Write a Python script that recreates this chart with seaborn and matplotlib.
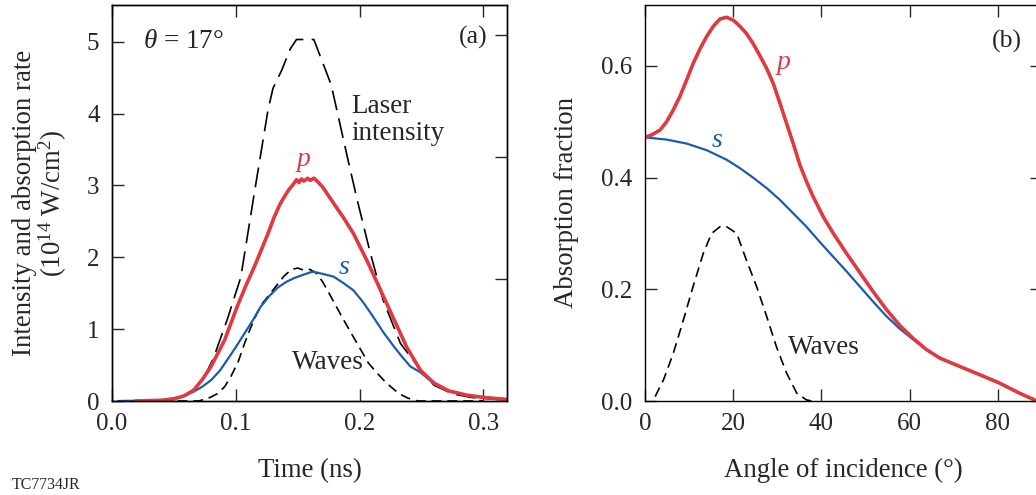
import numpy as np
import pandas as pd
import matplotlib
matplotlib.use("Agg")
import matplotlib.pyplot as plt
import seaborn as sns

# ---- (a) time history at theta = 17 deg ----
laser_t = [0.035, 0.05, 0.06, 0.067, 0.075, 0.082, 0.093, 0.104, 0.115, 0.126, 0.130,
           0.137, 0.144, 0.149, 0.163, 0.167, 0.177, 0.190, 0.198, 0.208, 0.219, 0.233,
           0.244, 0.252, 0.260, 0.275, 0.290, 0.320]
laser_I = [0.0, 0.02, 0.08, 0.18, 0.35, 0.60, 1.13, 1.72, 2.90, 4.05, 4.35,
           4.60, 4.90, 5.03, 5.03, 4.85, 4.40, 3.40, 2.80, 2.10, 1.40, 0.80,
           0.55, 0.38, 0.22, 0.10, 0.05, 0.01]

p_t = [0.019, 0.040, 0.050, 0.058, 0.066, 0.073, 0.080, 0.091, 0.101, 0.108, 0.115,
       0.121, 0.126, 0.131, 0.136, 0.142, 0.147, 0.149, 0.151, 0.153, 0.155, 0.158,
       0.160, 0.163, 0.165, 0.170, 0.179, 0.187, 0.195, 0.206, 0.214, 0.222, 0.230,
       0.238, 0.249, 0.260, 0.272, 0.287, 0.300, 0.320]
p_I = [0.0, 0.01, 0.03, 0.07, 0.15, 0.30, 0.48, 0.85, 1.31, 1.60, 1.87,
       2.12, 2.33, 2.56, 2.75, 2.92, 3.03, 3.08, 3.04, 3.09, 3.06, 3.10,
       3.07, 3.10, 3.07, 2.98, 2.75, 2.55, 2.33, 1.95, 1.65, 1.35, 1.05,
       0.75, 0.43, 0.25, 0.14, 0.08, 0.05, 0.02]

s_t = [0.005, 0.040, 0.055, 0.066, 0.073, 0.080, 0.087, 0.093, 0.100, 0.107, 0.114,
       0.120, 0.127, 0.134, 0.141, 0.147, 0.155, 0.162, 0.170, 0.179, 0.187, 0.195,
       0.203, 0.211, 0.219, 0.228, 0.235, 0.241, 0.249, 0.260, 0.272, 0.287, 0.300,
       0.320]
s_I = [0.0, 0.01, 0.05, 0.13, 0.20, 0.29, 0.42, 0.57, 0.75, 0.94, 1.13,
       1.31, 1.46, 1.58, 1.66, 1.71, 1.76, 1.80, 1.77, 1.73, 1.64, 1.54,
       1.37, 1.17, 0.96, 0.75, 0.60, 0.48, 0.40, 0.24, 0.14, 0.08, 0.05,
       0.02]

waves_t = [0.040, 0.070, 0.078, 0.085, 0.091, 0.096, 0.102, 0.107, 0.112, 0.117, 0.122,
           0.128, 0.134, 0.139, 0.145, 0.150, 0.155, 0.160, 0.165, 0.170, 0.174, 0.180,
           0.187, 0.194, 0.201, 0.207, 0.214, 0.220, 0.225, 0.232, 0.239, 0.247, 0.300]
waves_I = [0.0, 0.0, 0.04, 0.10, 0.20, 0.34, 0.55, 0.80, 1.02, 1.22, 1.37,
           1.50, 1.63, 1.74, 1.83, 1.85, 1.82, 1.83, 1.78, 1.66, 1.54, 1.35,
           1.13, 0.92, 0.71, 0.53, 0.39, 0.28, 0.20, 0.10, 0.04, 0.0, 0.0]

# ---- (b) absorption fraction vs angle of incidence ----
p_ang = [0.0, 1.4, 3.4, 4.9, 6.4, 7.9, 9.4, 10.9, 12.5, 14.0, 15.5, 17.0, 18.5,
         20.0, 21.5, 23.0, 24.5, 26.0, 27.6, 29.1, 30.6, 32.1, 33.6, 35.1, 36.6,
         38.1, 40.4, 42.7, 45.7, 48.7, 51.7, 54.7, 57.8, 60.8, 63.8, 66.8, 71.3,
         75.9, 80.4, 84.9, 88.3]
p_abs = [0.472, 0.476, 0.485, 0.500, 0.521, 0.545, 0.574, 0.604, 0.631, 0.653,
         0.671, 0.684, 0.687, 0.682, 0.671, 0.658, 0.640, 0.619, 0.595, 0.568,
         0.533, 0.497, 0.461, 0.423, 0.393, 0.366, 0.330, 0.300, 0.264, 0.230,
         0.196, 0.164, 0.135, 0.112, 0.092, 0.077, 0.062, 0.047, 0.032, 0.014,
         0.002]

s_ang = [0.0, 4.9, 9.4, 14.0, 18.5, 21.5, 24.5, 27.6, 30.6, 33.6, 36.6, 39.6, 42.7,
         45.7, 48.7, 51.7, 54.7, 57.8, 60.8, 63.8, 66.8, 71.3, 75.9, 80.4, 84.9,
         88.3]
s_abs = [0.472, 0.468, 0.461, 0.449, 0.432, 0.417, 0.400, 0.381, 0.360, 0.336,
         0.312, 0.285, 0.258, 0.232, 0.205, 0.178, 0.152, 0.129, 0.110, 0.092,
         0.077, 0.062, 0.047, 0.032, 0.014, 0.002]

waves_ang = [2.3, 4.2, 6.4, 8.7, 10.9, 13.2, 15.1, 17.0, 18.5, 20.8, 23.0, 25.3,
             27.6, 29.8, 32.1, 34.4, 36.6, 37.8]
waves_abs = [0.008, 0.038, 0.085, 0.145, 0.205, 0.264, 0.300, 0.312, 0.312, 0.300,
             0.252, 0.205, 0.151, 0.097, 0.050, 0.014, 0.002, 0.0]

RED = "#e03a40"
BLUE = "#1a5caf"

sns.set_style("ticks")
plt.rcParams["font.family"] = ["Liberation Serif", "DejaVu Serif"]
plt.rcParams["mathtext.fontset"] = "custom"
plt.rcParams["mathtext.rm"] = "Liberation Serif"
plt.rcParams["mathtext.it"] = "Liberation Serif:italic"
plt.rcParams["font.size"] = 19
plt.rcParams["axes.linewidth"] = 1.0
plt.rcParams["axes.edgecolor"] = "black"

fig = plt.figure(figsize=(10.36, 4.95), dpi=100)
W, H = 1036, 495
ax1 = fig.add_axes([112 / W, 1 - 401 / H, 395 / W, 396 / H])
ax2 = fig.add_axes([645 / W, 1 - 401 / H, 397 / W, 396 / H])

long_dash = (12, 5)
short_dash = (6, 3.5)
LABEL_FS = 19.3
NOTE_FS = 19.5

# Panel (a)
sns.lineplot(x=laser_t, y=laser_I, ax=ax1, color="black", lw=1.2)
ax1.lines[-1].set_dashes(long_dash)
sns.lineplot(x=waves_t, y=waves_I, ax=ax1, color="black", lw=1.2)
ax1.lines[-1].set_dashes(short_dash)
sns.lineplot(x=s_t, y=s_I, ax=ax1, color=BLUE, lw=1.6)
sns.lineplot(x=p_t, y=p_I, ax=ax1, color=RED, lw=2.6)

ax1.set_xlim(0, 0.319)
ax1.set_ylim(0, 5.51)
ax1.set_xticks([0.0, 0.1, 0.2, 0.3])
ax1.set_xticklabels(["0.0", "0.1", "0.2", "0.3"])
ax1.set_yticks([0, 1, 2, 3, 4, 5])
ax1.set_xlabel("Time (ns)", labelpad=16, fontsize=LABEL_FS)
ax1.set_ylabel("Intensity and absorption rate\n(10$^{14}$ W/cm$^{2}$)",
               labelpad=13, linespacing=1.0, fontsize=LABEL_FS)
ax1.tick_params(direction="in", length=8.5, width=1.0, top=True, right=False,
                labelsize=18, pad=9)

# unlabeled ticks on the right-hand frame of panel (a)
ax1r = ax1.twinx()
ax1r.set_ylim(ax1.get_ylim())
ax1r.set_yticks([1.70, 3.39, 5.09])
ax1r.set_yticklabels([])
ax1r.tick_params(direction="in", length=8.5, width=1.0)
ax1r.grid(False)

ax1.text(0.078, 0.907, r"$\theta$ = 17°", transform=ax1.transAxes,
         ha="left", va="center", fontsize=NOTE_FS)
ax1.text(0.95, 0.917, "(a)", transform=ax1.transAxes, ha="right", va="center",
         fontsize=18.5)
ax1.text(0.606, 0.71, "Laser\nintensity", transform=ax1.transAxes, ha="left",
         va="center", fontsize=NOTE_FS, linespacing=1.1)
ax1.text(0.484, 0.609, "p", transform=ax1.transAxes, ha="center", va="center",
         fontsize=20, color=RED, style="italic")
ax1.text(0.587, 0.338, "s", transform=ax1.transAxes, ha="center", va="center",
         fontsize=20, color=BLUE, style="italic")
ax1.text(0.456, 0.096, "Waves", transform=ax1.transAxes, ha="left", va="center",
         fontsize=NOTE_FS)

# Panel (b)
sns.lineplot(x=waves_ang, y=waves_abs, ax=ax2, color="black", lw=1.2)
ax2.lines[-1].set_dashes(short_dash)
sns.lineplot(x=s_ang, y=s_abs, ax=ax2, color=BLUE, lw=1.6)
sns.lineplot(x=p_ang, y=p_abs, ax=ax2, color=RED, lw=2.6)

ax2.set_xlim(0, 90)
ax2.set_ylim(0, 0.709)
ax2.set_xticks([0, 20, 40, 60, 80])
ax2.set_yticks([0.0, 0.2, 0.4, 0.6])
ax2.set_yticklabels(["0.0", "0.2", "0.4", "0.6"])
ax2.set_xlabel("Angle of incidence (°)", labelpad=16, fontsize=LABEL_FS)
ax2.set_ylabel("Absorption fraction", labelpad=16, fontsize=LABEL_FS)
ax2.tick_params(direction="in", length=8.5, width=1.0, top=True, right=True,
                labelsize=18, pad=9)

ax2.text(0.95, 0.907, "(b)", transform=ax2.transAxes, ha="right", va="center",
         fontsize=18.5)
ax2.text(0.348, 0.854, "p", transform=ax2.transAxes, ha="center", va="center",
         fontsize=20, color=RED, style="italic")
ax2.text(0.181, 0.659, "s", transform=ax2.transAxes, ha="center", va="center",
         fontsize=20, color=BLUE, style="italic")
ax2.text(0.360, 0.136, "Waves", transform=ax2.transAxes, ha="left", va="center",
         fontsize=NOTE_FS)

fig.text(12 / W, 1 - 485 / H, "TC7734JR", ha="left", va="center", fontsize=11.4)

fig.savefig("out.png", dpi=100)
